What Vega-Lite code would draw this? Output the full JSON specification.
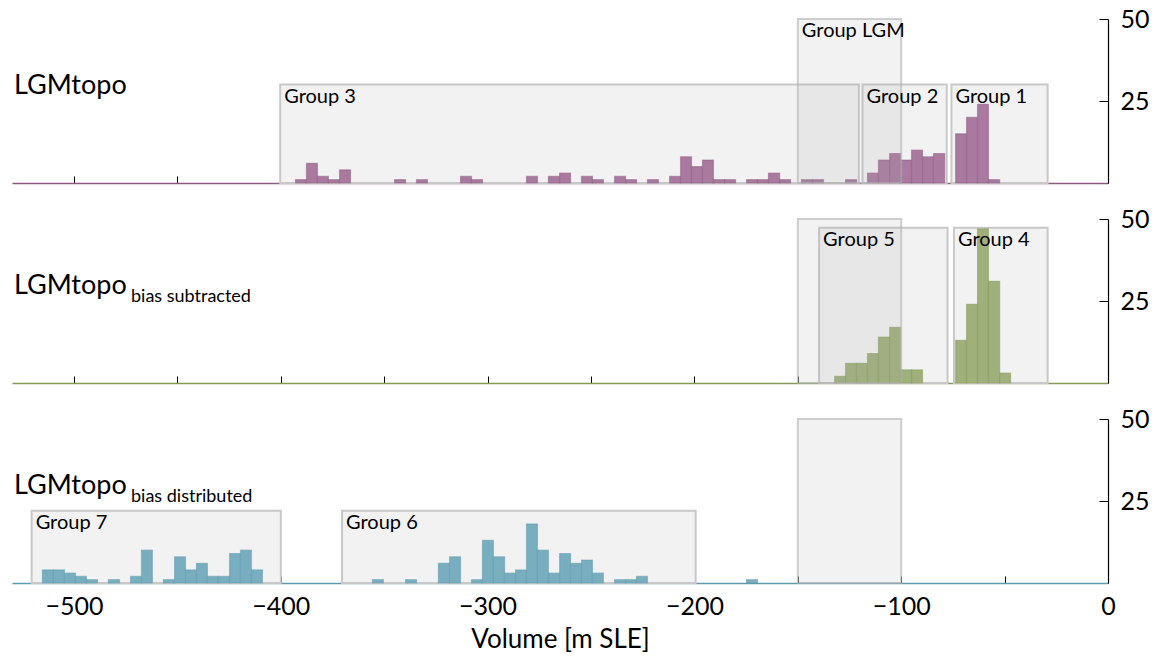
{
  "$schema": "https://vega.github.io/schema/vega-lite/v6.json",
  "background": "white",
  "padding": {"left": 12, "top": 7, "right": 0, "bottom": 0},
  "spacing": 36,
  "bounds": "flush",
  "config": {
    "view": {"stroke": null},
    "font": "Lato",
    "axis": {"grid": false, "labelFont": "Lato", "titleFont": "Lato", "labelColor": "#000", "tickColor": "#000", "domainColor": "#000", "labelFontSize": 25, "titleFontSize": 26, "titleFontWeight": "normal", "titleColor": "#000", "labelOverlap": false, "labelFlush": false}
  },
  "datasets": {
    "bars": [
      {"p": 1, "x0": -392.9, "x1": -387.6, "n": 1},
      {"p": 1, "x0": -387.6, "x1": -382.3, "n": 6},
      {"p": 1, "x0": -382.3, "x1": -377.0, "n": 2},
      {"p": 1, "x0": -377.0, "x1": -371.6, "n": 1},
      {"p": 1, "x0": -371.6, "x1": -366.3, "n": 4},
      {"p": 1, "x0": -345.0, "x1": -339.7, "n": 1},
      {"p": 1, "x0": -334.4, "x1": -329.1, "n": 1},
      {"p": 1, "x0": -313.1, "x1": -307.8, "n": 2},
      {"p": 1, "x0": -307.8, "x1": -302.5, "n": 1},
      {"p": 1, "x0": -281.2, "x1": -275.9, "n": 2},
      {"p": 1, "x0": -270.6, "x1": -265.2, "n": 2},
      {"p": 1, "x0": -265.2, "x1": -259.9, "n": 3},
      {"p": 1, "x0": -254.6, "x1": -249.3, "n": 2},
      {"p": 1, "x0": -249.3, "x1": -244.0, "n": 1},
      {"p": 1, "x0": -238.6, "x1": -233.3, "n": 2},
      {"p": 1, "x0": -233.3, "x1": -228.0, "n": 1},
      {"p": 1, "x0": -222.7, "x1": -217.4, "n": 1},
      {"p": 1, "x0": -212.0, "x1": -206.7, "n": 2},
      {"p": 1, "x0": -206.7, "x1": -201.4, "n": 8},
      {"p": 1, "x0": -201.4, "x1": -196.1, "n": 5},
      {"p": 1, "x0": -196.1, "x1": -190.8, "n": 7},
      {"p": 1, "x0": -190.8, "x1": -185.4, "n": 1},
      {"p": 1, "x0": -185.4, "x1": -180.1, "n": 1},
      {"p": 1, "x0": -174.8, "x1": -169.5, "n": 1},
      {"p": 1, "x0": -169.5, "x1": -164.2, "n": 1},
      {"p": 1, "x0": -164.2, "x1": -158.8, "n": 3},
      {"p": 1, "x0": -158.8, "x1": -153.5, "n": 1},
      {"p": 1, "x0": -148.2, "x1": -142.9, "n": 1},
      {"p": 1, "x0": -142.9, "x1": -137.6, "n": 1},
      {"p": 1, "x0": -126.9, "x1": -121.6, "n": 1},
      {"p": 1, "x0": -116.3, "x1": -111.0, "n": 3},
      {"p": 1, "x0": -111.0, "x1": -105.6, "n": 7},
      {"p": 1, "x0": -105.6, "x1": -100.3, "n": 9},
      {"p": 1, "x0": -100.3, "x1": -95.0, "n": 7},
      {"p": 1, "x0": -95.0, "x1": -89.7, "n": 10},
      {"p": 1, "x0": -89.7, "x1": -84.4, "n": 8},
      {"p": 1, "x0": -84.4, "x1": -79.0, "n": 9},
      {"p": 1, "x0": -73.7, "x1": -68.4, "n": 15},
      {"p": 1, "x0": -68.4, "x1": -63.1, "n": 20},
      {"p": 1, "x0": -63.1, "x1": -57.8, "n": 24},
      {"p": 1, "x0": -57.8, "x1": -52.4, "n": 1},
      {"p": 2, "x0": -132.2, "x1": -126.9, "n": 2},
      {"p": 2, "x0": -126.9, "x1": -121.6, "n": 6},
      {"p": 2, "x0": -121.6, "x1": -116.3, "n": 6},
      {"p": 2, "x0": -116.3, "x1": -111.0, "n": 9},
      {"p": 2, "x0": -111.0, "x1": -105.6, "n": 14},
      {"p": 2, "x0": -105.6, "x1": -100.3, "n": 17},
      {"p": 2, "x0": -100.3, "x1": -95.0, "n": 4},
      {"p": 2, "x0": -95.0, "x1": -89.7, "n": 4},
      {"p": 2, "x0": -73.7, "x1": -68.4, "n": 13},
      {"p": 2, "x0": -68.4, "x1": -63.1, "n": 24},
      {"p": 2, "x0": -63.1, "x1": -57.8, "n": 47},
      {"p": 2, "x0": -57.8, "x1": -52.4, "n": 31},
      {"p": 2, "x0": -52.4, "x1": -47.1, "n": 3},
      {"p": 3, "x0": -515.3, "x1": -510.0, "n": 4},
      {"p": 3, "x0": -510.0, "x1": -504.6, "n": 4},
      {"p": 3, "x0": -504.6, "x1": -499.3, "n": 3},
      {"p": 3, "x0": -499.3, "x1": -494.0, "n": 2},
      {"p": 3, "x0": -494.0, "x1": -488.7, "n": 1},
      {"p": 3, "x0": -483.4, "x1": -478.0, "n": 1},
      {"p": 3, "x0": -472.7, "x1": -467.4, "n": 2},
      {"p": 3, "x0": -467.4, "x1": -462.1, "n": 10},
      {"p": 3, "x0": -456.8, "x1": -451.4, "n": 1},
      {"p": 3, "x0": -451.4, "x1": -446.1, "n": 8},
      {"p": 3, "x0": -446.1, "x1": -440.8, "n": 4},
      {"p": 3, "x0": -440.8, "x1": -435.5, "n": 6},
      {"p": 3, "x0": -435.5, "x1": -430.2, "n": 2},
      {"p": 3, "x0": -430.2, "x1": -424.8, "n": 2},
      {"p": 3, "x0": -424.8, "x1": -419.5, "n": 9},
      {"p": 3, "x0": -419.5, "x1": -414.2, "n": 10},
      {"p": 3, "x0": -414.2, "x1": -408.9, "n": 4},
      {"p": 3, "x0": -355.7, "x1": -350.4, "n": 1},
      {"p": 3, "x0": -339.7, "x1": -334.4, "n": 1},
      {"p": 3, "x0": -323.8, "x1": -318.4, "n": 6},
      {"p": 3, "x0": -318.4, "x1": -313.1, "n": 8},
      {"p": 3, "x0": -307.8, "x1": -302.5, "n": 1},
      {"p": 3, "x0": -302.5, "x1": -297.2, "n": 13},
      {"p": 3, "x0": -297.2, "x1": -291.8, "n": 8},
      {"p": 3, "x0": -291.8, "x1": -286.5, "n": 3},
      {"p": 3, "x0": -286.5, "x1": -281.2, "n": 4},
      {"p": 3, "x0": -281.2, "x1": -275.9, "n": 18},
      {"p": 3, "x0": -275.9, "x1": -270.6, "n": 10},
      {"p": 3, "x0": -270.6, "x1": -265.2, "n": 3},
      {"p": 3, "x0": -265.2, "x1": -259.9, "n": 9},
      {"p": 3, "x0": -259.9, "x1": -254.6, "n": 6},
      {"p": 3, "x0": -254.6, "x1": -249.3, "n": 7},
      {"p": 3, "x0": -249.3, "x1": -244.0, "n": 3},
      {"p": 3, "x0": -238.6, "x1": -233.3, "n": 1},
      {"p": 3, "x0": -233.3, "x1": -228.0, "n": 1},
      {"p": 3, "x0": -228.0, "x1": -222.7, "n": 2},
      {"p": 3, "x0": -174.8, "x1": -169.5, "n": 1}
    ],
    "boxes": [
      {"p": 1, "g": "Group 3", "x0": -400.3, "x1": -120.5, "n": 30},
      {"p": 1, "g": "Group 2", "x0": -118.7, "x1": -78.0, "n": 30},
      {"p": 1, "g": "Group 1", "x0": -75.7, "x1": -29.2, "n": 30},
      {"p": 2, "g": "Group 5", "x0": -139.7, "x1": -77.6, "n": 47.3},
      {"p": 2, "g": "Group 4", "x0": -74.5, "x1": -29.2, "n": 47.3},
      {"p": 3, "g": "Group 7", "x0": -520.5, "x1": -400.0, "n": 22},
      {"p": 3, "g": "Group 6", "x0": -370.4, "x1": -199.4, "n": 22}
    ],
    "lgm": [
      {"p": 1, "g": "Group LGM", "x0": -150, "x1": -100, "n": 50},
      {"p": 2, "g": "", "x0": -150, "x1": -100, "n": 50},
      {"p": 3, "g": "", "x0": -150, "x1": -100, "n": 50}
    ],
    "titles": [
      {"p": 1, "main": "LGMtopo", "sub": ""},
      {"p": 2, "main": "LGMtopo", "sub": "bias subtracted"},
      {"p": 3, "main": "LGMtopo", "sub": "bias distributed"}
    ]
  },
  "vconcat": [
    {
      "width": 1096, "height": 164,
      "layer": [
        {"data": {"name": "boxes"}, "transform": [{"filter": "datum.p == 1"}], "mark": {"type": "rect", "fill": "#f2f2f2", "stroke": "#c8c8c8", "strokeWidth": 2},
         "encoding": {"x": {"field": "x0", "type": "quantitative", "scale": {"domain": [-530, 0], "nice": false, "zero": false}, "axis": {"values": [-500,-450,-400,-350,-300,-250,-200,-150,-100,-50,0], "labels": false, "title": null, "tickSize": -7, "domainColor": "#8b5a81", "domainWidth": 1.5}}, "x2": {"field": "x1"},
                      "y": {"field": "n", "type": "quantitative", "scale": {"domain": [0, 50], "nice": false}, "axis": {"orient": "right", "values": [25, 50], "tickSize": -9, "labelPadding": 21, "title": null, "domainWidth": 1.2}}, "y2": {"datum": 0}}},
        {"data": {"name": "bars"}, "transform": [{"filter": "datum.p == 1"}], "mark": {"type": "rect", "fill": "#a9799f", "stroke": "#8b5a81", "strokeWidth": 1.2, "strokeOpacity": 0.5},
         "encoding": {"x": {"field": "x0", "type": "quantitative", "scale": {"domain": [-530, 0], "nice": false, "zero": false}, "axis": {"values": [-500,-450,-400,-350,-300,-250,-200,-150,-100,-50,0], "labels": false, "title": null, "tickSize": -7, "domainColor": "#8b5a81", "domainWidth": 1.5}}, "x2": {"field": "x1"},
                      "y": {"field": "n", "type": "quantitative", "scale": {"domain": [0, 50], "nice": false}, "axis": {"orient": "right", "values": [25, 50], "tickSize": -9, "labelPadding": 21, "title": null, "domainWidth": 1.2}}, "y2": {"datum": 0}}},
        {"data": {"name": "lgm"}, "transform": [{"filter": "datum.p == 1"}], "mark": {"type": "rect", "fill": "#a8a8a8", "fillOpacity": 0.15, "stroke": "#b0b0b0", "strokeOpacity": 0.6, "strokeWidth": 2},
         "encoding": {"x": {"field": "x0", "type": "quantitative", "scale": {"domain": [-530, 0], "nice": false, "zero": false}, "axis": {"values": [-500,-450,-400,-350,-300,-250,-200,-150,-100,-50,0], "labels": false, "title": null, "tickSize": -7, "domainColor": "#8b5a81", "domainWidth": 1.5}}, "x2": {"field": "x1"},
                      "y": {"field": "n", "type": "quantitative", "scale": {"domain": [0, 50], "nice": false}, "axis": {"orient": "right", "values": [25, 50], "tickSize": -9, "labelPadding": 21, "title": null, "domainWidth": 1.2}}, "y2": {"datum": 0}}},
        {"data": {"name": "boxes"}, "transform": [{"filter": "datum.p == 1"}], "mark": {"type": "text", "align": "left", "baseline": "top", "dx": 4, "dy": 2, "fontSize": 20, "color": "#000"},
         "encoding": {"x": {"field": "x0", "type": "quantitative", "scale": {"domain": [-530, 0], "nice": false, "zero": false}, "axis": {"values": [-500,-450,-400,-350,-300,-250,-200,-150,-100,-50,0], "labels": false, "title": null, "tickSize": -7, "domainColor": "#8b5a81", "domainWidth": 1.5}},
                      "y": {"field": "n", "type": "quantitative", "scale": {"domain": [0, 50], "nice": false}, "axis": {"orient": "right", "values": [25, 50], "tickSize": -9, "labelPadding": 21, "title": null, "domainWidth": 1.2}}, "text": {"field": "g"}}},
        {"data": {"name": "lgm"}, "transform": [{"filter": "datum.p == 1"}], "mark": {"type": "text", "align": "left", "baseline": "top", "dx": 4, "dy": 2, "fontSize": 20, "color": "#000"},
         "encoding": {"x": {"field": "x0", "type": "quantitative", "scale": {"domain": [-530, 0], "nice": false, "zero": false}, "axis": {"values": [-500,-450,-400,-350,-300,-250,-200,-150,-100,-50,0], "labels": false, "title": null, "tickSize": -7, "domainColor": "#8b5a81", "domainWidth": 1.5}},
                      "y": {"field": "n", "type": "quantitative", "scale": {"domain": [0, 50], "nice": false}, "axis": {"orient": "right", "values": [25, 50], "tickSize": -9, "labelPadding": 21, "title": null, "domainWidth": 1.2}}, "text": {"field": "g"}}},
        {"data": {"name": "titles"}, "transform": [{"filter": "datum.p == 1"}], "mark": {"type": "text", "align": "left", "baseline": "alphabetic", "dx": 2, "fontSize": 27, "color": "#000"},
         "encoding": {"x": {"datum": -530, "type": "quantitative", "scale": {"domain": [-530, 0], "nice": false, "zero": false}, "axis": {"values": [-500,-450,-400,-350,-300,-250,-200,-150,-100,-50,0], "labels": false, "title": null, "tickSize": -7, "domainColor": "#8b5a81", "domainWidth": 1.5}},
                      "y": {"datum": 27.2, "type": "quantitative", "scale": {"domain": [0, 50], "nice": false}, "axis": {"orient": "right", "values": [25, 50], "tickSize": -9, "labelPadding": 21, "title": null, "domainWidth": 1.2}}, "text": {"field": "main"}}}
      ]
    },
    {
      "width": 1096, "height": 164,
      "layer": [
        {"data": {"name": "boxes"}, "transform": [{"filter": "datum.p == 2"}], "mark": {"type": "rect", "fill": "#f2f2f2", "stroke": "#c8c8c8", "strokeWidth": 2},
         "encoding": {"x": {"field": "x0", "type": "quantitative", "scale": {"domain": [-530, 0], "nice": false, "zero": false}, "axis": {"values": [-500,-450,-400,-350,-300,-250,-200,-150,-100,-50,0], "labels": false, "title": null, "tickSize": -7, "domainColor": "#849857", "domainWidth": 1.5}}, "x2": {"field": "x1"},
                      "y": {"field": "n", "type": "quantitative", "scale": {"domain": [0, 50], "nice": false}, "axis": {"orient": "right", "values": [25, 50], "tickSize": -9, "labelPadding": 21, "title": null, "domainWidth": 1.2}}, "y2": {"datum": 0}}},
        {"data": {"name": "bars"}, "transform": [{"filter": "datum.p == 2"}], "mark": {"type": "rect", "fill": "#a0b07b", "stroke": "#849857", "strokeWidth": 1.2, "strokeOpacity": 0.5},
         "encoding": {"x": {"field": "x0", "type": "quantitative", "scale": {"domain": [-530, 0], "nice": false, "zero": false}, "axis": {"values": [-500,-450,-400,-350,-300,-250,-200,-150,-100,-50,0], "labels": false, "title": null, "tickSize": -7, "domainColor": "#849857", "domainWidth": 1.5}}, "x2": {"field": "x1"},
                      "y": {"field": "n", "type": "quantitative", "scale": {"domain": [0, 50], "nice": false}, "axis": {"orient": "right", "values": [25, 50], "tickSize": -9, "labelPadding": 21, "title": null, "domainWidth": 1.2}}, "y2": {"datum": 0}}},
        {"data": {"name": "lgm"}, "transform": [{"filter": "datum.p == 2"}], "mark": {"type": "rect", "fill": "#a8a8a8", "fillOpacity": 0.15, "stroke": "#b0b0b0", "strokeOpacity": 0.6, "strokeWidth": 2},
         "encoding": {"x": {"field": "x0", "type": "quantitative", "scale": {"domain": [-530, 0], "nice": false, "zero": false}, "axis": {"values": [-500,-450,-400,-350,-300,-250,-200,-150,-100,-50,0], "labels": false, "title": null, "tickSize": -7, "domainColor": "#849857", "domainWidth": 1.5}}, "x2": {"field": "x1"},
                      "y": {"field": "n", "type": "quantitative", "scale": {"domain": [0, 50], "nice": false}, "axis": {"orient": "right", "values": [25, 50], "tickSize": -9, "labelPadding": 21, "title": null, "domainWidth": 1.2}}, "y2": {"datum": 0}}},
        {"data": {"name": "boxes"}, "transform": [{"filter": "datum.p == 2"}], "mark": {"type": "text", "align": "left", "baseline": "top", "dx": 4, "dy": 2, "fontSize": 20, "color": "#000"},
         "encoding": {"x": {"field": "x0", "type": "quantitative", "scale": {"domain": [-530, 0], "nice": false, "zero": false}, "axis": {"values": [-500,-450,-400,-350,-300,-250,-200,-150,-100,-50,0], "labels": false, "title": null, "tickSize": -7, "domainColor": "#849857", "domainWidth": 1.5}},
                      "y": {"field": "n", "type": "quantitative", "scale": {"domain": [0, 50], "nice": false}, "axis": {"orient": "right", "values": [25, 50], "tickSize": -9, "labelPadding": 21, "title": null, "domainWidth": 1.2}}, "text": {"field": "g"}}},
        {"data": {"name": "titles"}, "transform": [{"filter": "datum.p == 2"}], "mark": {"type": "text", "align": "left", "baseline": "alphabetic", "dx": 2, "fontSize": 27, "color": "#000"},
         "encoding": {"x": {"datum": -530, "type": "quantitative", "scale": {"domain": [-530, 0], "nice": false, "zero": false}, "axis": {"values": [-500,-450,-400,-350,-300,-250,-200,-150,-100,-50,0], "labels": false, "title": null, "tickSize": -7, "domainColor": "#849857", "domainWidth": 1.5}},
                      "y": {"datum": 27.2, "type": "quantitative", "scale": {"domain": [0, 50], "nice": false}, "axis": {"orient": "right", "values": [25, 50], "tickSize": -9, "labelPadding": 21, "title": null, "domainWidth": 1.2}}, "text": {"field": "main"}}},
        {"data": {"name": "titles"}, "transform": [{"filter": "datum.p == 2"}], "mark": {"type": "text", "align": "left", "baseline": "alphabetic", "dx": 119, "fontSize": 18, "color": "#000"},
         "encoding": {"x": {"datum": -530, "type": "quantitative", "scale": {"domain": [-530, 0], "nice": false, "zero": false}, "axis": {"values": [-500,-450,-400,-350,-300,-250,-200,-150,-100,-50,0], "labels": false, "title": null, "tickSize": -7, "domainColor": "#849857", "domainWidth": 1.5}},
                      "y": {"datum": 24.8, "type": "quantitative", "scale": {"domain": [0, 50], "nice": false}, "axis": {"orient": "right", "values": [25, 50], "tickSize": -9, "labelPadding": 21, "title": null, "domainWidth": 1.2}}, "text": {"field": "sub"}}}
      ]
    },
    {
      "width": 1096, "height": 164,
      "layer": [
        {"data": {"name": "boxes"}, "transform": [{"filter": "datum.p == 3"}], "mark": {"type": "rect", "fill": "#f2f2f2", "stroke": "#c8c8c8", "strokeWidth": 2},
         "encoding": {"x": {"field": "x0", "type": "quantitative", "scale": {"domain": [-530, 0], "nice": false, "zero": false}, "axis": {"values": [-500,-450,-400,-350,-300,-250,-200,-150,-100,-50,0], "labelExpr": "datum.value % 100 === 0 ? datum.label : ''", "title": "Volume [m SLE]", "titlePadding": 7, "tickSize": -7, "labelPadding": 18, "domainColor": "#5e9aae", "domainWidth": 1.5}}, "x2": {"field": "x1"},
                      "y": {"field": "n", "type": "quantitative", "scale": {"domain": [0, 50], "nice": false}, "axis": {"orient": "right", "values": [25, 50], "tickSize": -9, "labelPadding": 21, "title": null, "domainWidth": 1.2}}, "y2": {"datum": 0}}},
        {"data": {"name": "bars"}, "transform": [{"filter": "datum.p == 3"}], "mark": {"type": "rect", "fill": "#78aec0", "stroke": "#5e9aae", "strokeWidth": 1.2, "strokeOpacity": 0.5},
         "encoding": {"x": {"field": "x0", "type": "quantitative", "scale": {"domain": [-530, 0], "nice": false, "zero": false}, "axis": {"values": [-500,-450,-400,-350,-300,-250,-200,-150,-100,-50,0], "labelExpr": "datum.value % 100 === 0 ? datum.label : ''", "title": "Volume [m SLE]", "titlePadding": 7, "tickSize": -7, "labelPadding": 18, "domainColor": "#5e9aae", "domainWidth": 1.5}}, "x2": {"field": "x1"},
                      "y": {"field": "n", "type": "quantitative", "scale": {"domain": [0, 50], "nice": false}, "axis": {"orient": "right", "values": [25, 50], "tickSize": -9, "labelPadding": 21, "title": null, "domainWidth": 1.2}}, "y2": {"datum": 0}}},
        {"data": {"name": "lgm"}, "transform": [{"filter": "datum.p == 3"}], "mark": {"type": "rect", "fill": "#a8a8a8", "fillOpacity": 0.15, "stroke": "#b0b0b0", "strokeOpacity": 0.6, "strokeWidth": 2},
         "encoding": {"x": {"field": "x0", "type": "quantitative", "scale": {"domain": [-530, 0], "nice": false, "zero": false}, "axis": {"values": [-500,-450,-400,-350,-300,-250,-200,-150,-100,-50,0], "labelExpr": "datum.value % 100 === 0 ? datum.label : ''", "title": "Volume [m SLE]", "titlePadding": 7, "tickSize": -7, "labelPadding": 18, "domainColor": "#5e9aae", "domainWidth": 1.5}}, "x2": {"field": "x1"},
                      "y": {"field": "n", "type": "quantitative", "scale": {"domain": [0, 50], "nice": false}, "axis": {"orient": "right", "values": [25, 50], "tickSize": -9, "labelPadding": 21, "title": null, "domainWidth": 1.2}}, "y2": {"datum": 0}}},
        {"data": {"name": "boxes"}, "transform": [{"filter": "datum.p == 3"}], "mark": {"type": "text", "align": "left", "baseline": "top", "dx": 4, "dy": 2, "fontSize": 20, "color": "#000"},
         "encoding": {"x": {"field": "x0", "type": "quantitative", "scale": {"domain": [-530, 0], "nice": false, "zero": false}, "axis": {"values": [-500,-450,-400,-350,-300,-250,-200,-150,-100,-50,0], "labelExpr": "datum.value % 100 === 0 ? datum.label : ''", "title": "Volume [m SLE]", "titlePadding": 7, "tickSize": -7, "labelPadding": 18, "domainColor": "#5e9aae", "domainWidth": 1.5}},
                      "y": {"field": "n", "type": "quantitative", "scale": {"domain": [0, 50], "nice": false}, "axis": {"orient": "right", "values": [25, 50], "tickSize": -9, "labelPadding": 21, "title": null, "domainWidth": 1.2}}, "text": {"field": "g"}}},
        {"data": {"name": "titles"}, "transform": [{"filter": "datum.p == 3"}], "mark": {"type": "text", "align": "left", "baseline": "alphabetic", "dx": 2, "fontSize": 27, "color": "#000"},
         "encoding": {"x": {"datum": -530, "type": "quantitative", "scale": {"domain": [-530, 0], "nice": false, "zero": false}, "axis": {"values": [-500,-450,-400,-350,-300,-250,-200,-150,-100,-50,0], "labelExpr": "datum.value % 100 === 0 ? datum.label : ''", "title": "Volume [m SLE]", "titlePadding": 7, "tickSize": -7, "labelPadding": 18, "domainColor": "#5e9aae", "domainWidth": 1.5}},
                      "y": {"datum": 27.2, "type": "quantitative", "scale": {"domain": [0, 50], "nice": false}, "axis": {"orient": "right", "values": [25, 50], "tickSize": -9, "labelPadding": 21, "title": null, "domainWidth": 1.2}}, "text": {"field": "main"}}},
        {"data": {"name": "titles"}, "transform": [{"filter": "datum.p == 3"}], "mark": {"type": "text", "align": "left", "baseline": "alphabetic", "dx": 119, "fontSize": 18, "color": "#000"},
         "encoding": {"x": {"datum": -530, "type": "quantitative", "scale": {"domain": [-530, 0], "nice": false, "zero": false}, "axis": {"values": [-500,-450,-400,-350,-300,-250,-200,-150,-100,-50,0], "labelExpr": "datum.value % 100 === 0 ? datum.label : ''", "title": "Volume [m SLE]", "titlePadding": 7, "tickSize": -7, "labelPadding": 18, "domainColor": "#5e9aae", "domainWidth": 1.5}},
                      "y": {"datum": 24.8, "type": "quantitative", "scale": {"domain": [0, 50], "nice": false}, "axis": {"orient": "right", "values": [25, 50], "tickSize": -9, "labelPadding": 21, "title": null, "domainWidth": 1.2}}, "text": {"field": "sub"}}}
      ]
    }
  ]
}
